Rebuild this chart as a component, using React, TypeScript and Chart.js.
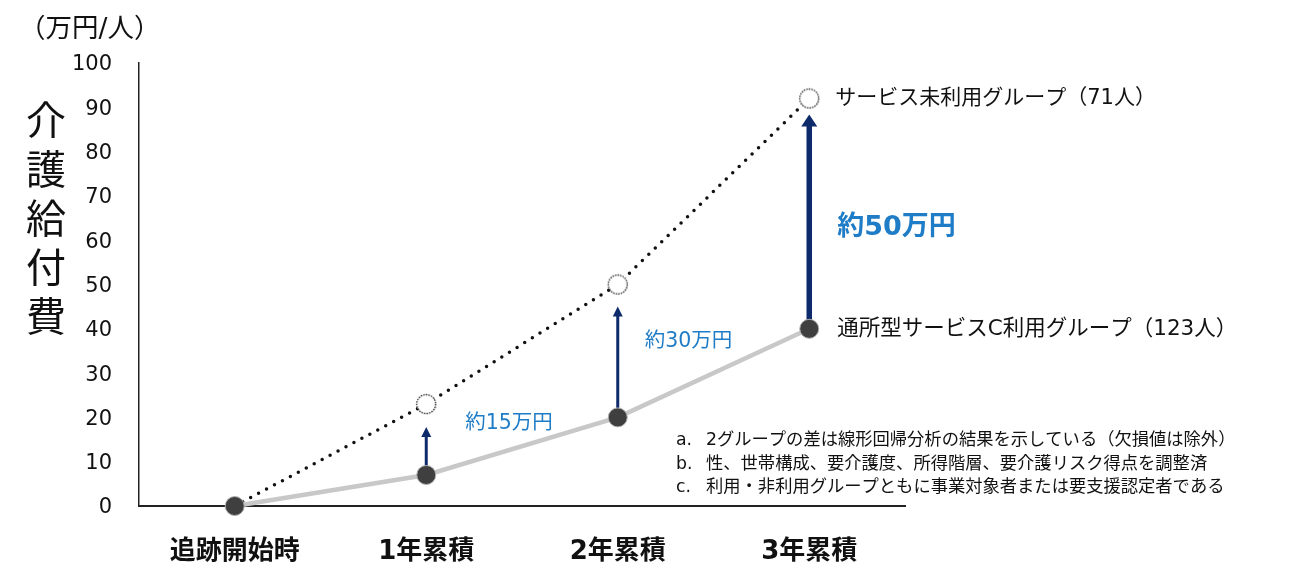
import { useEffect, useRef } from 'react';
import { Chart, registerables } from 'chart.js';

Chart.register(...registerables);

const FONT = '"DejaVu Sans", "Noto Sans CJK JP", sans-serif';

const categories = ['追跡開始時', '1年累積', '2年累積', '3年累積'];
const nonUserValues = [0, 23, 50, 92];
const userValues = [0, 7, 20, 40];
const yMin = 0;
const yMax = 100;
const yStep = 10;
const diffLabels = ['', '約15万円', '約30万円', '約50万円'];
const seriesLabels = ['サービス未利用グループ（71人）', '通所型サービスC利用グループ（123人）'];
const unitLabel = '（万円/人）';
const yTitle = ['介', '護', '給', '付', '費'];
const noteMarks = ['a.', 'b.', 'c.'];
const noteTexts = [
  '2グループの差は線形回帰分析の結果を示している（欠損値は除外）',
  '性、世帯構成、要介護度、所得階層、要介護リスク得点を調整済',
  '利用・非利用グループともに事業対象者または要支援認定者である',
];

export default function App() {
  const ref = useRef<HTMLCanvasElement>(null);

  useEffect(() => {
    const canvas = ref.current!;
    const ring = document.createElement('canvas');
    ring.width = 24;
    ring.height = 24;
    const rc = ring.getContext('2d')!;
    rc.beginPath();
    rc.arc(12, 12, 9.5, 0, Math.PI * 2);
    rc.fillStyle = '#ffffff';
    rc.fill();
    rc.setLineDash([1.4, 1.2]);
    rc.strokeStyle = '#111111';
    rc.lineWidth = 1.3;
    rc.stroke();

    const arrowSpecs = [
      { i: 1, w: 3, hw: 5, hl: 10, gap: 23 },
      { i: 2, w: 3, hw: 5, hl: 10, gap: 22 },
      { i: 3, w: 5.5, hw: 8, hl: 12, gap: 16 },
    ];
    const diffSpecs = [
      null,
      { dx: 39, dy: -16, size: 20.5, bold: false },
      { dx: 27, dy: -9, size: 20.5, bold: false },
      { dx: 28, dy: 14, size: 27, bold: true },
    ];

    const overlay = {
      id: 'overlay',
      beforeDatasetsDraw(chart: any) {
        const ctx = chart.ctx;
        const xs = chart.scales.x;
        const ys = chart.scales.y;
        ctx.save();
        ctx.fillStyle = '#0d2b6b';
        ctx.strokeStyle = '#0d2b6b';
        for (const a of arrowSpecs) {
          const px = xs.getPixelForValue(a.i);
          const y0 = ys.getPixelForValue(userValues[a.i]);
          const tip = ys.getPixelForValue(nonUserValues[a.i]) + a.gap;
          ctx.lineWidth = a.w;
          ctx.beginPath();
          ctx.moveTo(px, y0);
          ctx.lineTo(px, tip + a.hl - 1);
          ctx.stroke();
          ctx.beginPath();
          ctx.moveTo(px - a.hw, tip + a.hl);
          ctx.lineTo(px + a.hw, tip + a.hl);
          ctx.lineTo(px, tip);
          ctx.closePath();
          ctx.fill();
        }
        ctx.restore();
      },
      afterDraw(chart: any) {
        const ctx = chart.ctx;
        const xs = chart.scales.x;
        const ys = chart.scales.y;
        const area = chart.chartArea;
        ctx.save();
        ctx.textBaseline = 'middle';
        ctx.textAlign = 'left';
        ctx.fillStyle = '#111111';
        ctx.font = `26.5px ${FONT}`;
        ctx.fillText(unitLabel, 19, 30);

        ctx.textAlign = 'center';
        ctx.font = `40px ${FONT}`;
        yTitle.forEach((ch, k) => ctx.fillText(ch, 46, 125 + k * 49));

        ctx.textAlign = 'left';
        diffLabels.forEach((t, i) => {
          const s = diffSpecs[i];
          if (!s || !t) return;
          const px = xs.getPixelForValue(i);
          const mid = (ys.getPixelForValue(userValues[i]) + ys.getPixelForValue(nonUserValues[i])) / 2;
          ctx.fillStyle = '#1f7cc6';
          ctx.font = `${s.bold ? 'bold ' : ''}${s.size}px ${FONT}`;
          ctx.fillText(t, px + s.dx, mid + s.dy);
        });

        ctx.fillStyle = '#111111';
        const lx = xs.getPixelForValue(3) + 26;
        ctx.font = `21px ${FONT}`;
        ctx.fillText(seriesLabels[0], lx, ys.getPixelForValue(nonUserValues[3]));
        ctx.font = `21.5px ${FONT}`;
        ctx.fillText(seriesLabels[1], lx + 2, ys.getPixelForValue(userValues[3]) + 1);

        ctx.font = `17.3px ${FONT}`;
        noteTexts.forEach((t, k) => {
          const yy = 441 + k * 23.5;
          ctx.fillText(noteMarks[k], area.right - 229, yy);
          ctx.fillText(t, area.right - 199, yy);
        });
        ctx.restore();
      },
    };

    const chart = new Chart(canvas, {
      type: 'line',
      data: {
        labels: categories,
        datasets: [
          {
            label: seriesLabels[1],
            data: userValues,
            borderColor: '#c8c8c8',
            borderWidth: 4.5,
            tension: 0,
            pointRadius: 9.5,
            pointBackgroundColor: '#3f3f3f',
            pointBorderColor: '#b0b0b0',
            pointBorderWidth: 1,
            order: 0,
            clip: false,
          },
          {
            label: seriesLabels[0],
            data: nonUserValues,
            borderColor: '#111111',
            borderWidth: 3.5,
            borderDash: [0, 9],
            borderCapStyle: 'round',
            tension: 0,
            pointStyle: ring,
            pointRadius: [0, 10, 10, 10],
            order: 1,
            clip: false,
          },
        ],
      } as any,
      options: {
        responsive: false,
        animation: false,
        devicePixelRatio: 1,
        events: [],
        layout: { padding: { left: 0, right: 409, top: 63, bottom: 0 } },
        plugins: { legend: { display: false }, tooltip: { enabled: false } },
        scales: {
          x: {
            offset: true,
            grid: { display: false, drawTicks: false },
            border: { display: true, color: '#222222', width: 2 },
            ticks: { color: '#111111', padding: 31, font: { family: FONT, size: 26, weight: 'bold' } },
            afterFit(scale: any) {
              scale.height = 77;
            },
          },
          y: {
            min: yMin,
            max: yMax,
            grid: { display: false, drawTicks: false },
            border: { display: true, color: '#222222', width: 1.5 },
            ticks: { stepSize: yStep, color: '#111111', padding: 27, labelOffset: 2, font: { family: FONT, size: 21 } },
            afterFit(scale: any) {
              scale.width = 139;
            },
          },
        },
      } as any,
      plugins: [overlay],
    });
    return () => chart.destroy();
  }, []);

  return (
    <div style={{ position: 'absolute', left: 0, top: 0, width: 1314, height: 583, background: '#fff' }}>
      <canvas ref={ref} width={1314} height={583} style={{ display: 'block' }} />
    </div>
  );
}
